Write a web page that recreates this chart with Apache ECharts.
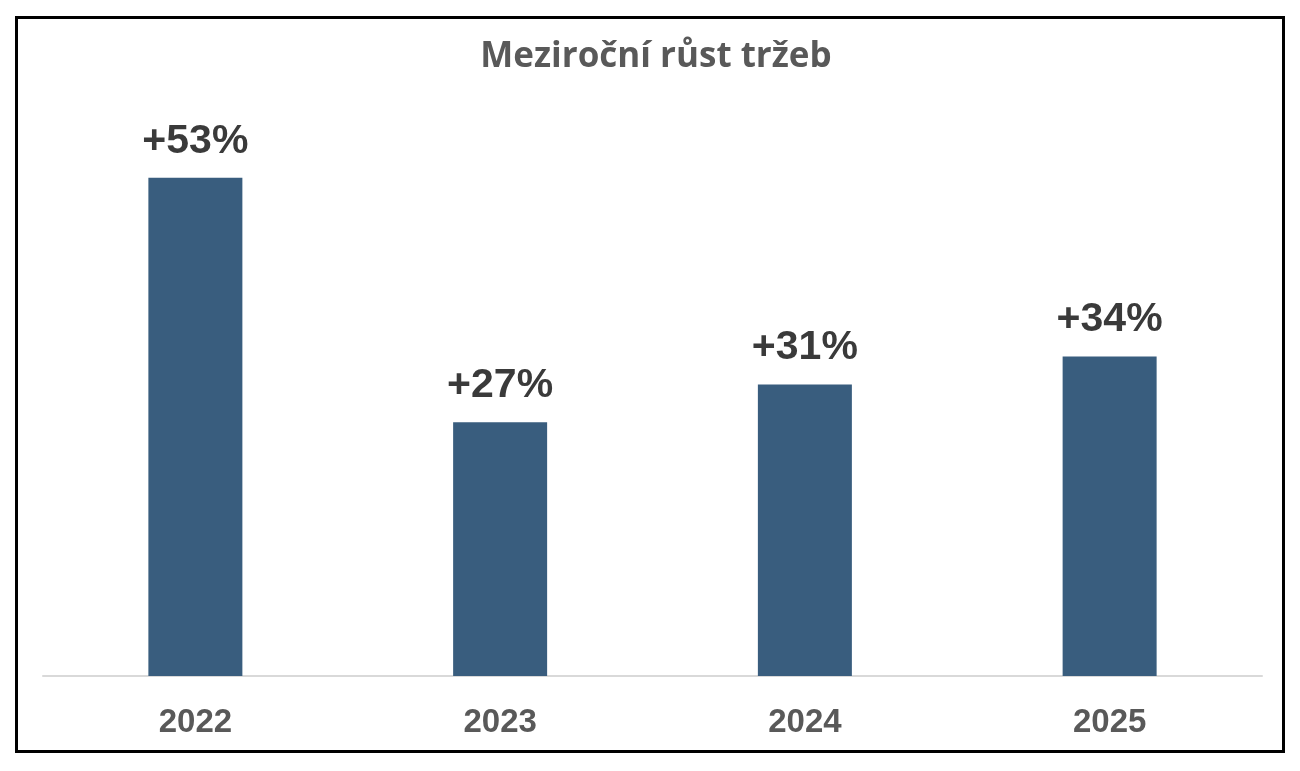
<!DOCTYPE html>
<html>
<head>
<meta charset="utf-8">
<script src="https://cdn.jsdelivr.net/npm/echarts@6/dist/echarts.min.js"></script>
<style>
html,body{margin:0;padding:0;background:#fff;}
#c{width:1300px;height:771px;}
</style>
</head>
<body>
<div id="c"></div>
<script>
const categories = ['2022', '2023', '2024', '2025'];
const growthValues = [53, 27, 31, 34];
const titleText = 'Meziroční růst tržeb';

const chart = echarts.init(document.getElementById('c'), null, {renderer: 'canvas'});
chart.setOption({
  animation: false,
  backgroundColor: '#ffffff',
  title: {
    text: titleText,
    left: 651,
    textAlign: 'center',
    top: 35,
    textStyle: {fontFamily: 'Open Sans', fontWeight: 'bold', fontSize: 35, color: '#595959'}
  },
  graphic: [{
    type: 'rect',
    shape: {x: 16.5, y: 17.5, width: 1267, height: 734},
    style: {fill: 'none', stroke: '#000', lineWidth: 3},
    z: 100
  }],
  grid: {left: 43, right: 38, top: 112, bottom: 95, containLabel: false},
  xAxis: {
    type: 'category',
    data: categories,
    axisLine: {lineStyle: {color: '#d9d9d9', width: 2}},
    axisTick: {show: false},
    axisLabel: {margin: 30, fontFamily: 'Liberation Sans', fontWeight: 'bold', fontSize: 33, color: '#595959'}
  },
  yAxis: {
    type: 'value', min: 0, max: 60, show: false,
    splitLine: {show: false}
  },
  series: [{
    type: 'bar',
    data: growthValues,
    barWidth: 94,
    itemStyle: {color: '#395d7e'},
    label: {
      show: true, position: 'top', distance: 16,
      formatter: p => '+' + p.value + '%',
      fontFamily: 'Liberation Sans', fontWeight: 'bold', fontSize: 41, color: '#3a3a3a'
    }
  }]
});
</script>
</body>
</html>
